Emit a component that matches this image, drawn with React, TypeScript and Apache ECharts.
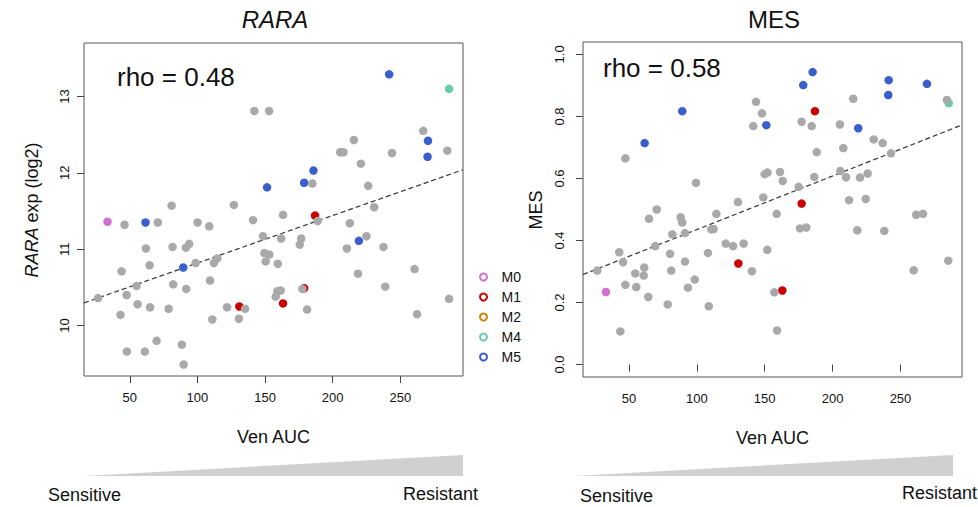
import React, { useEffect, useRef } from 'react';
import * as echarts from 'echarts';

const FONT = '"Liberation Sans", Arial, Helvetica, sans-serif';

const X_TICKS = [50, 100, 150, 200, 250];
const RARA_TICKS = [10, 11, 12, 13];
const MES_TICKS = [0, 0.2, 0.4, 0.6, 0.8, 1.0];

const GROUPS = ['M0', 'M1', 'M2', 'M4', 'M5'];
const GROUP_COLORS = ['#d070d0', '#cd0000', '#cd8500', '#66cdaa', '#3a5fcd'];
const OTHER_COLOR = '#a9a9a9';

// RARA panel: [Ven AUC, RARA exp (log2)]
const raraM0 = [[33.5, 11.36]];
const raraM1 = [[131.0, 10.25], [163.3, 10.29], [187.0, 11.44], [178.9, 10.49]];
const raraM2: number[][] = [];
const raraM4 = [[286.1, 13.10]];
const raraM5 = [[241.8, 13.29], [270.5, 12.42], [270.2, 12.21], [185.8, 12.03], [178.9, 11.87], [151.5, 11.81], [61.6, 11.35], [89.5, 10.76], [219.4, 11.11]];
const raraOther = [
  [142.1, 12.81], [153.0, 12.81], [267.0, 12.55], [215.7, 12.43], [205.6, 12.27], [208.0, 12.27], [243.9, 12.26], [284.8, 12.29],
  [220.9, 12.12], [185.0, 11.86], [226.3, 11.83], [80.9, 11.57], [127.0, 11.58], [46.1, 11.32], [70.7, 11.35], [100.1, 11.35],
  [108.7, 11.30], [141.1, 11.38], [163.3, 11.45], [148.5, 11.17], [161.9, 11.14], [61.9, 11.01], [81.6, 11.03], [91.5, 11.02],
  [93.9, 11.07], [149.5, 10.95], [153.2, 10.93], [150.5, 10.84], [159.4, 10.81], [64.6, 10.79], [98.7, 10.82], [112.2, 10.82],
  [114.7, 10.88], [43.9, 10.71], [55.0, 10.52], [82.1, 10.54], [91.7, 10.48], [109.3, 10.59], [26.5, 10.36], [47.6, 10.40],
  [159.1, 10.45], [161.6, 10.46], [157.9, 10.38], [55.7, 10.28], [65.0, 10.24], [78.7, 10.22], [121.9, 10.24], [135.2, 10.22],
  [43.1, 10.14], [111.0, 10.08], [130.7, 10.09], [69.8, 9.80], [88.5, 9.75], [47.8, 9.66], [61.1, 9.66], [89.8, 9.49],
  [230.7, 11.55], [212.7, 11.34], [225.0, 11.17], [210.5, 11.01], [237.6, 11.03], [176.7, 11.14], [175.7, 11.06], [218.7, 10.68],
  [260.6, 10.74], [238.9, 10.51], [181.1, 10.21], [286.1, 10.35], [262.4, 10.15], [189.0, 11.37], [177.6, 10.48],
];

// MES panel: [Ven AUC, MES]
const mesM0 = [[33.1, 0.234]];
const mesM1 = [[187.0, 0.817], [177.2, 0.519], [130.6, 0.326], [163.0, 0.239]];
const mesM2: number[][] = [];
const mesM4 = [[285.5, 0.843]];
const mesM5 = [[89.3, 0.817], [61.6, 0.714], [151.2, 0.772], [185.3, 0.943], [178.4, 0.901], [241.3, 0.917], [241.0, 0.869], [269.5, 0.905], [218.9, 0.762]];
const mesOther = [
  [47.4, 0.665], [143.6, 0.847], [148.0, 0.810], [141.6, 0.769], [99.4, 0.586], [150.0, 0.614], [152.0, 0.619], [130.3, 0.524],
  [149.0, 0.539], [70.5, 0.500], [88.1, 0.475], [114.4, 0.486], [64.8, 0.470], [284.2, 0.853], [215.2, 0.857], [177.2, 0.783],
  [184.6, 0.769], [205.4, 0.774], [230.3, 0.726], [236.9, 0.714], [243.0, 0.681], [188.3, 0.685], [207.9, 0.698], [161.3, 0.621],
  [163.3, 0.592], [186.5, 0.605], [205.7, 0.624], [209.9, 0.604], [220.2, 0.603], [225.8, 0.616], [175.0, 0.573], [158.8, 0.486],
  [212.1, 0.530], [224.4, 0.534], [261.6, 0.483], [266.6, 0.486], [89.3, 0.458], [82.0, 0.420], [91.3, 0.424], [69.4, 0.382],
  [110.7, 0.436], [112.4, 0.437], [42.9, 0.362], [45.7, 0.330], [80.3, 0.357], [91.3, 0.332], [108.2, 0.360], [121.3, 0.390],
  [126.7, 0.382], [134.5, 0.390], [151.9, 0.370], [140.6, 0.301], [26.7, 0.303], [54.7, 0.294], [61.3, 0.313], [60.9, 0.287],
  [81.2, 0.303], [98.5, 0.274], [47.4, 0.257], [55.4, 0.250], [93.5, 0.248], [64.3, 0.218], [78.6, 0.194], [108.8, 0.188],
  [43.7, 0.107], [176.0, 0.439], [180.6, 0.442], [218.2, 0.433], [238.1, 0.431], [285.2, 0.335], [259.7, 0.304], [157.1, 0.233],
  [159.1, 0.110],
];

const RARA_FIT = { intercept: 10.197, slope: 0.00622 };
const MES_FIT = { intercept: 0.2624, slope: 0.001728 };
const RHO_TEXTS = ['rho = 0.48', 'rho = 0.58'];

const X_RANGE_L = [16.1, 296.4];
const X_RANGE_R = [16.2, 295.3];
const Y_RANGE_L = [9.34, 13.70];
const Y_RANGE_R = [-0.04, 1.04];

export default function App() {
  const ref = useRef<HTMLDivElement>(null);
  useEffect(() => {
    if (!ref.current) return;
    const chart = echarts.init(ref.current, undefined, { renderer: 'svg' });

    const axisCommonX = (range: number[], idx: number) => ({
      type: 'value',
      gridIndex: idx,
      min: range[0],
      max: range[1],
      splitLine: { show: false },
      axisLine: { show: false },
      axisTick: { show: true, customValues: X_TICKS, length: 7, lineStyle: { color: '#444' } },
      axisLabel: { customValues: X_TICKS, fontSize: 13, color: '#111', margin: 15, fontFamily: FONT },
      name: 'Ven AUC',
      nameLocation: 'middle',
      nameGap: 52,
      nameTextStyle: { fontSize: 18, color: '#111', fontFamily: FONT },
    });
    const axisCommonY = (range: number[], ticks: number[], idx: number, margin: number, fmt?: (v: number) => string) => ({
      type: 'value',
      gridIndex: idx,
      min: range[0],
      max: range[1],
      splitLine: { show: false },
      axisLine: { show: false },
      axisTick: { show: true, customValues: ticks, length: 7, lineStyle: { color: '#444' } },
      axisLabel: { customValues: ticks, fontSize: 13, color: '#111', margin, rotate: 90, fontFamily: FONT, formatter: fmt },
    });

    const groupSeries = (sets: number[][][], idx: number) =>
      sets.map((d, i) => ({
        type: 'scatter',
        name: GROUPS[i],
        xAxisIndex: idx,
        yAxisIndex: idx,
        data: d,
        symbol: 'circle',
        symbolSize: 8.5,
        itemStyle: { color: GROUP_COLORS[i], opacity: 1 },
        emphasis: { disabled: true },
        silent: true,
      }));

    const fitLine = (fit: { intercept: number; slope: number }, range: number[], idx: number) => ({
      type: 'line',
      name: 'fit' + idx,
      xAxisIndex: idx,
      yAxisIndex: idx,
      data: range.map((x) => [x, fit.intercept + fit.slope * x]),
      symbol: 'none',
      lineStyle: { color: '#333', width: 1.2, type: [5, 3] },
      silent: true,
      z: 1,
    });

    const otherSeries = (d: number[][], idx: number) => ({
      type: 'scatter',
      name: 'other',
      xAxisIndex: idx,
      yAxisIndex: idx,
      data: d,
      symbol: 'circle',
      symbolSize: 8.5,
      itemStyle: { color: OTHER_COLOR, opacity: 1 },
      emphasis: { disabled: true },
      silent: true,
    });

    chart.setOption({
      animation: false,
      backgroundColor: '#fff',
      textStyle: { fontFamily: FONT },
      title: [
        { text: 'RARA', left: 270, top: 2, textAlign: 'center', textStyle: { fontSize: 24, fontStyle: 'italic', fontWeight: 'normal', color: '#111', fontFamily: FONT } },
        { text: 'MES', left: 769, top: 2, textAlign: 'center', textStyle: { fontSize: 24, fontWeight: 'normal', color: '#111', fontFamily: FONT } },
      ],
      legend: {
        data: GROUPS,
        orient: 'vertical',
        left: 479,
        top: 270,
        padding: 0,
        itemWidth: 26,
        itemHeight: 7,
        itemGap: 6,
        icon: 'emptyCircle',
        selectedMode: false,
        textStyle: { fontSize: 14, color: '#111', fontFamily: FONT },
      },
      grid: [
        { left: 84, top: 43, width: 379, height: 333, show: true, borderColor: '#555', borderWidth: 1, backgroundColor: 'transparent' },
        { left: 583, top: 42, width: 379, height: 335, show: true, borderColor: '#555', borderWidth: 1, backgroundColor: 'transparent' },
      ],
      xAxis: [axisCommonX(X_RANGE_L, 0), axisCommonX(X_RANGE_R, 1)],
      yAxis: [
        axisCommonY(Y_RANGE_L, RARA_TICKS, 0, 13),
        axisCommonY(Y_RANGE_R, MES_TICKS, 1, 17, (v: number) => v.toFixed(1)),
      ],
      series: [
        fitLine(RARA_FIT, X_RANGE_L, 0),
        ...groupSeries([raraM0, raraM1, raraM2, raraM4, raraM5], 0),
        otherSeries(raraOther, 0),
        fitLine(MES_FIT, X_RANGE_R, 1),
        ...groupSeries([mesM0, mesM1, mesM2, mesM4, mesM5], 1),
        otherSeries(mesOther, 1),
      ],
      graphic: [
        {
          type: 'text', x: 32, y: 210, rotation: Math.PI / 2,
          style: {
            text: '{i|RARA} exp (log2)', align: 'center', verticalAlign: 'middle', fontSize: 18, fill: '#111', fontFamily: FONT,
            rich: { i: { fontStyle: 'italic', fontSize: 18, fontFamily: FONT, fill: '#111' } },
          },
        },
        { type: 'text', x: 536, y: 210, rotation: Math.PI / 2, style: { text: 'MES', align: 'center', verticalAlign: 'middle', fontSize: 18, fill: '#111', fontFamily: FONT } },
        { type: 'text', left: 117, top: 64, style: { text: RHO_TEXTS[0], fontSize: 26, fill: '#111', fontFamily: FONT } },
        { type: 'text', left: 603, top: 55, style: { text: RHO_TEXTS[1], fontSize: 26, fill: '#111', fontFamily: FONT } },
        { type: 'polygon', shape: { points: [[84, 476], [463, 455], [463, 476]] }, style: { fill: '#d0d0d0' } },
        { type: 'polygon', shape: { points: [[574, 476], [953, 455], [953, 476]] }, style: { fill: '#d0d0d0' } },
        { type: 'text', x: 48, y: 495, style: { text: 'Sensitive', fontSize: 18, fill: '#111', fontFamily: FONT, verticalAlign: 'middle' } },
        { type: 'text', x: 478, y: 494, style: { text: 'Resistant', fontSize: 18, fill: '#111', fontFamily: FONT, align: 'right', verticalAlign: 'middle' } },
        { type: 'text', x: 580, y: 496, style: { text: 'Sensitive', fontSize: 18, fill: '#111', fontFamily: FONT, verticalAlign: 'middle' } },
        { type: 'text', x: 977, y: 493, style: { text: 'Resistant', fontSize: 18, fill: '#111', fontFamily: FONT, align: 'right', verticalAlign: 'middle' } },
      ],
    });
    return () => chart.dispose();
  }, []);
  return <div ref={ref} style={{ position: 'fixed', left: 0, top: 0, width: 978, height: 507 }} />;
}
